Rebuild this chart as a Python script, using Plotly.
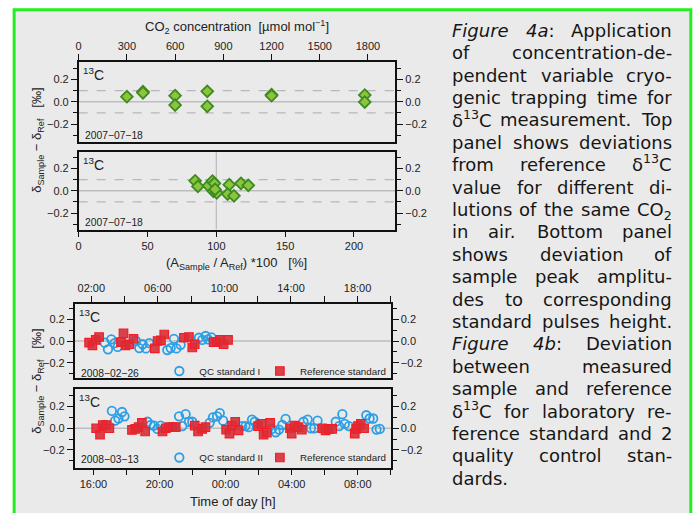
import re
import plotly.graph_objects as go

W, H = 693, 513
def fx(p): return p / W
def fy(p): return 1 - p / H

# ---------------- data ----------------
# Fig 4a top: CO2 concentration [umol/mol] vs delta deviation [permil]
co2_conc = [300, 400, 400, 600, 600, 800, 800, 1200, 1200, 1780, 1780]
co2_dev = [0.045, 0.09, 0.08, 0.054, -0.03, 0.093, -0.041, 0.063, 0.054, 0.06, -0.003]

# Fig 4a bottom: amplitude ratio [%] vs deviation
amp_ratio = [84.6, 86.6, 94.3, 97.2, 98.6, 97.9, 100.3, 99.1, 109.4, 108.2, 112.8, 117.9, 123.2]
amp_dev = [0.089, 0.039, 0.045, 0.087, 0.066, -0.005, -0.018, 0.012, 0.054, -0.03, -0.045, 0.066, 0.048]

# Fig 4b top: 2008-02-26
qc1_time = ["02:48", "03:00", "03:12", "03:24", "03:35", "04:41", "04:53", "05:05", "05:17", "05:29",
            "06:34", "06:46", "06:58", "07:07", "07:22", "08:28", "08:40", "08:52", "09:01", "09:13"]
qc1_dev = [-0.015, -0.077, 0.015, -0.02, -0.055, 0.0, -0.065, -0.03, -0.068, -0.02,
           -0.083, -0.065, 0.02, -0.068, -0.035, 0.03, 0.01, 0.046, 0.015, 0.034]
ref1_time = ["01:52", "02:04", "02:16", "02:28", "03:47", "03:56", "04:03", "04:17", "04:32", "05:49", "05:59",
             "06:11", "06:23", "07:34", "07:52", "08:04", "08:13", "09:21", "09:33", "09:45", "09:57", "10:13"]
ref1_dev = [-0.015, -0.04, 0.01, 0.037, -0.01, 0.07, -0.04, -0.03, 0.02, -0.068, 0.0,
            0.006, 0.06, 0.03, 0.037, -0.06, -0.03, -0.01, -0.01, 0.01, -0.03, 0.01]

# Fig 4b bottom: 2008-03-13 / 14
qc2_time = ["03-13 17:07", "03-13 17:19", "03-13 17:31", "03-13 17:44", "03-13 17:53",
            "03-13 19:16", "03-13 19:28", "03-13 19:40", "03-13 19:52", "03-13 20:04",
            "03-13 21:11", "03-13 21:23", "03-13 21:35", "03-13 21:47", "03-13 21:59",
            "03-13 23:02", "03-13 23:14", "03-13 23:29", "03-13 23:39", "03-13 23:51",
            "03-14 01:00", "03-14 01:12", "03-14 01:24", "03-14 01:36", "03-14 01:46",
            "03-14 02:48", "03-14 03:02", "03-14 03:14", "03-14 03:26", "03-14 03:38",
            "03-14 04:43", "03-14 04:58", "03-14 05:10", "03-14 05:22", "03-14 05:34",
            "03-14 06:40", "03-14 06:52", "03-14 07:04", "03-14 07:13", "03-14 07:28",
            "03-14 08:31", "03-14 08:43", "03-14 08:56", "03-14 09:08", "03-14 09:20"]
qc2_dev = [0.16, 0.07, 0.09, 0.15, 0.11,
           0.06, 0.03, 0.025, -0.006, 0.025,
           0.11, 0.02, 0.13, 0.06, 0.06,
           0.05, 0.10, 0.11, 0.14, 0.07,
           0.02, 0.02, 0.01, 0.08, 0.06,
           -0.006, -0.037, -0.012, 0.03, 0.086,
           0.06, 0.08, 0.0, 0.0, 0.07,
           0.06, 0.02, 0.13, 0.04, 0.02,
           0.12, 0.09, 0.09, -0.012, -0.006]
ref2_time = ["03-13 16:10", "03-13 16:24", "03-13 16:34", "03-13 16:46", "03-13 16:58",
             "03-13 18:20", "03-13 18:32", "03-13 18:44", "03-13 18:56", "03-13 19:08",
             "03-13 20:11", "03-13 20:23", "03-13 20:35", "03-13 20:47", "03-13 20:59",
             "03-13 22:08", "03-13 22:20", "03-13 22:35", "03-13 22:47",
             "03-14 00:02", "03-14 00:14", "03-14 00:23", "03-14 00:35", "03-14 00:47",
             "03-14 01:58", "03-14 02:10", "03-14 02:18", "03-14 02:30", "03-14 02:42",
             "03-14 03:54", "03-14 04:00", "03-14 04:10", "03-14 04:25", "03-14 04:37",
             "03-14 05:51", "03-14 06:03", "03-14 06:15", "03-14 06:27",
             "03-14 07:49", "03-14 07:54", "03-14 08:01", "03-14 08:11", "03-14 08:23"]
ref2_dev = [0.0, -0.06, 0.03, 0.03, 0.0,
            -0.015, -0.006, 0.01, 0.05, -0.03,
            -0.03, 0.0, 0.01, 0.01, 0.01,
            0.025, -0.03, -0.006, 0.01,
            -0.012, -0.05, 0.025, 0.06, -0.02,
            0.02, 0.04, -0.06, -0.04, 0.05,
            0.0, -0.05, 0.025, 0.01, -0.012,
            0.0, -0.02, -0.006, -0.006,
            -0.05, -0.006, 0.02, 0.04, 0.0]

qc1_x = ["2008-02-26 " + t for t in qc1_time]
ref1_x = ["2008-02-26 " + t for t in ref1_time]
qc2_x = ["2008-" + t for t in qc2_time]
ref2_x = ["2008-" + t for t in ref2_time]

caption_lines = [
    ["<i>Figure</i>", "<i>4a</i>:", "Application"],
    ["of", "concentration-de-"],
    ["pendent", "variable", "cryo-"],
    ["genic", "trapping", "time", "for"],
    ["δ<sup>13</sup>C", "measurement.", "Top"],
    ["panel", "shows", "deviations"],
    ["from", "reference", "δ<sup>13</sup>C"],
    ["value", "for", "different", "di-"],
    ["lutions", "of", "the", "same", "CO<sub>2</sub>"],
    ["in", "air.", "Bottom", "panel"],
    ["shows", "deviation", "of"],
    ["sample", "peak", "amplitu-"],
    ["des", "to", "corresponding"],
    ["standard", "pulses", "height."],
    ["<i>Figure</i>", "<i>4b</i>:", "Deviation"],
    ["between", "measured"],
    ["sample", "and", "reference"],
    ["δ<sup>13</sup>C", "for", "laboratory", "re-"],
    ["ference", "standard", "and", "2"],
    ["quality", "control", "stan-"],
    ["dards."],
]

# ---------------- styles ----------------
TICKF = dict(family="Liberation Sans, Arial, sans-serif", size=11, color="#222")
TITF = dict(family="Liberation Sans, Arial, sans-serif", size=13, color="#222")
GREEN_FILL, GREEN_LINE = "#8cc43c", "#3d8b22"
BLUE = "#2c9fe6"
RED_FILL, RED_LINE = "rgba(214,48,56,0.9)", "#f41c26"

fig = go.Figure()
diam = dict(symbol="diamond", size=9, color=GREEN_FILL, line=dict(color=GREEN_LINE, width=1.8))
circ = dict(symbol="circle-open", size=8.5, color=BLUE, line=dict(width=1.8))
sq = dict(symbol="square", size=8.5, color=RED_FILL, line=dict(color=RED_LINE, width=1.2))

series = [
    (co2_conc, co2_dev, diam, None, "x", "y", None),
    (amp_ratio, amp_dev, diam, None, "x2", "y3", None),
    (qc1_x, qc1_dev, circ, "QC standard I", "x3", "y5", "legend"),
    (ref1_x, ref1_dev, sq, "Reference standard", "x3", "y5", "legend2"),
    (qc2_x, qc2_dev, circ, "QC standard II", "x4", "y7", "legend3"),
    (ref2_x, ref2_dev, sq, "Reference standard", "x4", "y7", "legend4"),
]
for xs, ys, mk, name, xa, ya, lg in series:
    kw = dict(x=xs, y=ys, mode="markers", marker=mk, xaxis=xa, yaxis=ya, hoverinfo="skip")
    if lg:
        kw.update(name=name, legend=lg, showlegend=True)
    else:
        kw.update(showlegend=False)
    fig.add_trace(go.Scatter(**kw))
# invisible copies so that the right-hand (mirrored) axes are drawn
for xs, ys, mk, name, xa, ya, lg in series:
    yr = "y" + str(int(ya[1:] or 1) + 1)
    fig.add_trace(go.Scatter(x=xs, y=ys, mode="markers", marker=dict(opacity=0), xaxis=xa, yaxis=yr,
                             showlegend=False, hoverinfo="skip"))

common = dict(showline=True, linecolor="#111", linewidth=1.5, ticks="outside", ticklen=6,
              tickwidth=1.2, tickcolor="#111", showgrid=False, zeroline=False, tickfont=TICKF)

# panel pixel boxes: (x0, x1, y0, y1, yhalf)
panels = [(76, 394, 62, 141.5, 0.356), (76, 394, 152, 229.5, 0.346),
          (72, 389.5, 304, 378, 0.341), (72, 389.5, 389, 467.5, 0.362)]

def ylay(dom, half, side, overl=None, anchor="x"):
    d = dict(common, domain=dom, range=[-half, half], dtick=0.2, tick0=0, tickformat=".1f",
             side=side, anchor=anchor, fixedrange=True,
             minor=dict(dtick=0.1, tick0=0, ticks="outside", ticklen=4, tickwidth=1.2, tickcolor="#111"))
    if overl:
        d["overlaying"] = overl
    return d

lay = {}
for i, (x0, x1, y0, y1, half) in enumerate(panels):
    xname = "xaxis" if i == 0 else f"xaxis{i+1}"
    xa = "x" if i == 0 else f"x{i+1}"
    yl = "y" if i == 0 else f"y{2*i+1}"
    ylname = "yaxis" if i == 0 else f"yaxis{2*i+1}"
    yrname = f"yaxis{2*i+2}"
    xdom = [fx(x0), fx(x1)]
    ydom = [fy(y1), fy(y0)]
    lay[ylname] = ylay(ydom, half, "left", anchor=xa)
    lay[yrname] = ylay(ydom, half, "right", overl=yl, anchor=xa)
    lay[xname] = dict(common, domain=xdom, anchor=yl, mirror=True)

lay["xaxis"].update(side="top", range=[0, 1970], dtick=300, tick0=0)
lay["xaxis2"].update(side="bottom", range=[0, 230], dtick=50, tick0=0)
H4 = 4 * 3600 * 1000
H2 = 2 * 3600 * 1000
lay["xaxis3"].update(side="top", type="date", range=["2008-02-26 01:00", "2008-02-26 20:00"],
                     tick0="2008-02-26 02:00", dtick=H4, tickformat="%H:%M",
                     minor=dict(dtick=H2, tick0="2008-02-26 00:00", ticks="outside", ticklen=6,
                                tickwidth=1.2, tickcolor="#111"))
lay["xaxis4"].update(side="bottom", type="date", range=["2008-03-13 14:52", "2008-03-14 10:00"],
                     tick0="2008-03-13 00:00", dtick=H4, tickformat="%H:%M",
                     minor=dict(dtick=H2, tick0="2008-03-13 00:00", ticks="outside", ticklen=6,
                                tickwidth=1.2, tickcolor="#111"))

shapes = [dict(type="rect", xref="paper", yref="paper", x0=fx(11.2), x1=fx(690.8), y0=fy(540), y1=fy(9.7),
               fillcolor="#eaeaea", line=dict(color="#22ee22", width=3), layer="below")]
ZERO, LIM = 0.0, 0.1
for i in range(4):
    xa = "x" if i == 0 else f"x{i+1}"
    yl = "y" if i == 0 else f"y{2*i+1}"
    shapes.append(dict(type="line", xref=f"{xa} domain", yref=yl, x0=0, x1=1, y0=ZERO, y1=ZERO,
                       line=dict(color="#bdbdbd", width=1.3), layer="below"))
    if i < 2:
        for v in (LIM, -LIM):
            shapes.append(dict(type="line", xref=f"{xa} domain", yref=yl, x0=0, x1=1, y0=v, y1=v,
                               line=dict(color="#b8b8b8", width=1.2, dash="dash"), layer="below"))
REF_AMP = 100
shapes.append(dict(type="line", xref="x2", yref="y3 domain", x0=REF_AMP, x1=REF_AMP, y0=0, y1=1,
                   line=dict(color="#bdbdbd", width=1.3), layer="below"))

ann = []
def A(text, x, y, font, xa="center", ya="middle", angle=0, yshift=0):
    ann.append(dict(text=text, x=fx(x), y=fy(y), xref="paper", yref="paper", showarrow=False,
                    xanchor=xa, yanchor=ya, font=font, textangle=angle, borderpad=0, borderwidth=0,
                    yshift=yshift))

A("CO<sub>2</sub> concentration\u00a0\u00a0[µmol mol<sup>−1</sup>]", 235, 27, TITF)
A("(A<sub>Sample</sub> / A<sub>Ref</sub>) *100\u00a0\u00a0\u00a0[%]", 235, 263, TITF)
A("Time of day [h]", 231, 501, TITF)
ytit = "δ<sub>Sample</sub> − δ<sub>Ref</sub>\u00a0\u00a0\u00a0[‰]"
A(ytit, 34, 140, TITF, angle=-90)
A(ytit, 34, 381, TITF, angle=-90)

C13F = dict(family="Liberation Sans, Arial, sans-serif", size=14, color="#222")
DATEF = dict(family="Liberation Sans, Arial, sans-serif", size=10.3, color="#222")
for (x0, x1, y0, y1, half), dx in zip(panels, [4.5, 4.5, 4, 4.5]):
    A("<sup>13</sup>C", x0 + dx, y0 + 3, C13F, xa="left", ya="top")
A("2007−07−18", 82.7, 135.5, DATEF, xa="left")
A("2007−07−18", 82.7, 222.7, DATEF, xa="left")
A("2008−02−26", 78.3, 373.5, DATEF, xa="left")
A("2008−03−13", 78.3, 459.2, DATEF, xa="left")

# ---------------- caption (justified text) ----------------
CAPF = dict(family="DejaVu Sans", size=18, color="#161616")
CW = {' ': .318, 'a': .613, 'b': .635, 'c': .550, 'd': .635, 'e': .615, 'f': .352, 'g': .635, 'h': .634,
      'i': .278, 'j': .278, 'k': .579, 'l': .278, 'm': .974, 'n': .634, 'o': .612, 'p': .635, 'q': .635,
      'r': .411, 's': .521, 't': .392, 'u': .634, 'v': .592, 'w': .818, 'x': .592, 'y': .592, 'z': .525,
      'A': .684, 'B': .686, 'C': .698, 'D': .770, 'F': .575, 'O': .787, 'T': .611, '.': .318, ':': .337,
      '-': .361, 'δ': .612}

def wwidth(word, size):
    tot = 0.0
    for seg in re.split(r"(<su[pb]>.*?</su[pb]>)", word):
        scale = 0.7 if seg.startswith("<su") else 1.0
        plain = re.sub(r"<[^>]+>", "", seg)
        for ch in plain:
            tot += CW.get(ch, .636 if ch.isdigit() else .6) * scale
    return tot * size

L, R = 450.7, 672.3
Y0, DY = 30.3, 22.4
for li, words in enumerate(caption_lines):
    yc = Y0 + DY * li
    last = li == len(caption_lines) - 1
    ws = [wwidth(w, CAPF["size"]) for w in words]
    if last or len(words) == 1:
        A(" ".join(words), L, yc, CAPF, xa="left")
        continue
    gap = (R - L - sum(ws)) / (len(words) - 1)
    xpos = L
    for k, w in enumerate(words):
        ys = 1.3 if "<sup>" in w else (-1.3 if "<sub>" in w else 0)
        if k == len(words) - 1:
            A(w, R, yc, CAPF, xa="right", yshift=ys)
        else:
            A(w, xpos, yc, CAPF, xa="left", yshift=ys)
        xpos += ws[k] + gap

LEGF = dict(family="Liberation Sans, Arial, sans-serif", size=9.8, color="#222")
legcommon = dict(orientation="h", xanchor="left", yanchor="middle", font=LEGF,
                 bgcolor="rgba(0,0,0,0)", borderwidth=0, itemwidth=30, tracegroupgap=0)

fig.update_layout(
    width=W, height=H, autosize=False, margin=dict(l=0, r=0, t=0, b=0),
    paper_bgcolor="white", plot_bgcolor="rgba(0,0,0,0)",
    shapes=shapes, annotations=ann,
    legend=dict(legcommon, x=fx(157), y=fy(371)),
    legend2=dict(legcommon, x=fx(258), y=fy(371)),
    legend3=dict(legcommon, x=fx(157), y=fy(457.5)),
    legend4=dict(legcommon, x=fx(258), y=fy(457.5)),
    **lay,
)
fig.write_html("out.html")
